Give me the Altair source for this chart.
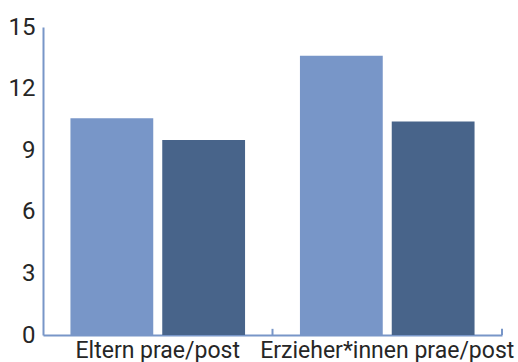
import altair as alt
import pandas as pd

groups = ["Eltern prae/post", "Erzieher*innen prae/post"]
phases = ["prae", "post"]
values = [10.55, 9.5, 13.6, 10.4]
colors = ["#7896C8", "#48648A"]

rows = []
i = 0
for g in groups:
    for p in phases:
        rows.append({"gruppe": g, "phase": p, "wert": values[i]})
        i += 1
df = pd.DataFrame(rows)

tick_df = pd.DataFrame({"gruppe": groups, "y0": [0, 0], "y1": [0.3, 0.3]})

FONT = "Roboto, sans-serif"

xscale = alt.Scale(domain=groups, paddingInner=0, paddingOuter=0)
yscale = alt.Scale(domain=[0, 15], nice=False)

bars = alt.Chart(df).mark_bar().encode(
    x=alt.X("gruppe:N", scale=xscale, sort=groups,
            axis=alt.Axis(title=None, labelAngle=0, ticks=False, domain=True,
                          domainColor="#7896C8", domainWidth=2,
                          labelFont=FONT, labelFontSize=23, labelColor="#262626",
                          labelPadding=4, labelLimit=0)),
    xOffset=alt.XOffset("phase:N", sort=phases,
                        scale=alt.Scale(paddingInner=0.098, paddingOuter=0.299)),
    y=alt.Y("wert:Q", scale=yscale,
            axis=alt.Axis(title=None, values=[0, 3, 6, 9, 12, 15], ticks=False,
                          grid=False, domainColor="#7896C8", domainWidth=2,
                          labelFont=FONT, labelFontSize=24, labelColor="#262626",
                          labelPadding=8)),
    color=alt.Color("phase:N", sort=phases,
                    scale=alt.Scale(domain=phases, range=colors), legend=None),
)

ticks = alt.Chart(tick_df).mark_rule(color="#7896C8", strokeWidth=2).encode(
    x=alt.X("gruppe:N", scale=xscale, sort=groups, bandPosition=1),
    y=alt.Y("y0:Q", scale=yscale),
    y2="y1:Q",
)

chart = alt.layer(bars, ticks).properties(
    width=459, height=308,
    autosize=alt.AutoSizeParams(type="none"),
    padding={"left": 43, "top": 27, "right": 16, "bottom": 27},
).configure(background="white").configure_view(stroke=None)

chart.save("out.html", embed_options={"renderer": "svg", "actions": False})
